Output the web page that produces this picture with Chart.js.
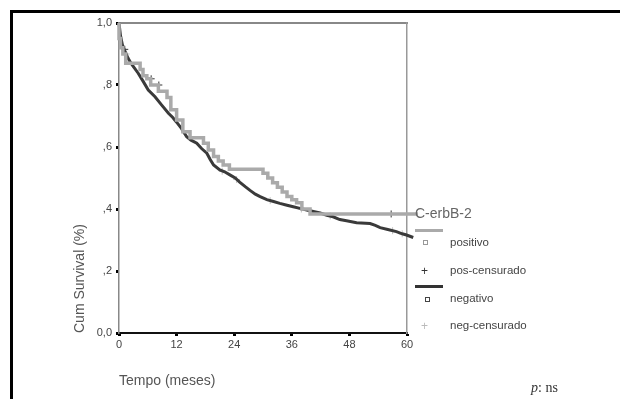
<!DOCTYPE html>
<html>
<head>
<meta charset="utf-8">
<script src="https://cdn.jsdelivr.net/npm/chart.js@4/dist/chart.umd.min.js"></script>
<style>
  html, body { margin: 0; padding: 0; background: #fff; overflow: hidden; }
  #wrap { position: relative; width: 620px; height: 399px; overflow: hidden; font-family: "Liberation Sans", Arial, sans-serif; }
  #frame { position: absolute; left: 10px; top: 10px; width: 700px; height: 500px; border-top: 3px solid #000; border-left: 3px solid #000; }
  canvas { position: absolute; left: 0; top: 0; }
  .txt { position: absolute; color: #444; white-space: nowrap; line-height: 1; }
  .lg { font-size: 11.5px; left: 450px; transform: translateY(-50%); }
  .sym { position: absolute; }
</style>
</head>
<body>
<div id="wrap">
  <div id="frame"></div>
  <canvas id="chart" width="620" height="399"></canvas>

  <div class="txt" style="left:415px; top:213px; font-size:14px; color:#666; transform:translateY(-50%);">C-erbB-2</div>
  <div class="sym" style="left:415px; top:229px; width:28px; height:3px; background:#aaa;"></div>
  <div class="sym" style="left:423px; top:240px; width:3px; height:3px; border:1px solid #999;"></div>
  <div class="txt lg" style="top:243px;">positivo</div>
  <div class="txt" style="left:421px; top:271px; font-size:12px; color:#333; transform:translateY(-50%);">+</div>
  <div class="txt lg" style="top:271px;">pos-censurado</div>
  <div class="sym" style="left:415px; top:285px; width:28px; height:3px; background:#333;"></div>
  <div class="sym" style="left:425px; top:297px; width:3px; height:3px; border:1px solid #444;"></div>
  <div class="txt lg" style="top:299px;">negativo</div>
  <div class="txt" style="left:421px; top:326px; font-size:12px; color:#bbb; transform:translateY(-50%);">+</div>
  <div class="txt lg" style="top:326px;">neg-censurado</div>

  <div class="txt" style="left:531px; top:388px; font-size:14px; color:#333; font-family:'Liberation Serif', serif; transform:translateY(-50%);"><i>p</i>: ns</div>
</div>
<script>
// months and cumulative survival
const posMonths = [0, 0.3, 0.8, 1.4, 4.4, 5.0, 5.8, 6.6, 8.2, 10.0, 10.8, 12.0, 13.3, 14.8, 17.6, 18.6, 19.7, 20.7, 21.7, 23.0, 30.0, 31.0, 32.0, 33.0, 34.0, 35.0, 36.0, 37.0, 38.1, 39.8, 44.5, 62.3];
const posSurv = [1.0, 0.95, 0.92, 0.90, 0.87, 0.85, 0.83, 0.82, 0.80, 0.78, 0.76, 0.72, 0.687, 0.649, 0.63, 0.612, 0.59, 0.569, 0.555, 0.542, 0.528, 0.515, 0.5, 0.485, 0.47, 0.455, 0.44, 0.43, 0.42, 0.40, 0.384, 0.384];

const negMonths = [0, 0.3, 0.7, 1.2, 1.9, 2.5, 3.0, 4.0, 5.1, 6.1, 7.5, 8.9, 10.3, 11.2, 12.0, 13.0, 14.1, 15.0, 16.2, 17.2, 18.3, 19.0, 19.7, 21.0, 22.0, 23.1, 24.2, 25.2, 26.3, 27.3, 28.4, 29.4, 30.8, 32.2, 33.5, 35.0, 36.3, 37.7, 39.1, 40.5, 41.9, 43.3, 44.6, 46.0, 47.4, 49.5, 52.3, 53.4, 54.4, 56.0, 57.8, 59.0, 59.9, 61.3, 62.7];
const negSurv = [1.0, 0.96, 0.93, 0.91, 0.886, 0.87, 0.859, 0.838, 0.81, 0.784, 0.762, 0.735, 0.709, 0.695, 0.68, 0.66, 0.633, 0.622, 0.612, 0.595, 0.58, 0.56, 0.542, 0.526, 0.52, 0.51, 0.5, 0.486, 0.472, 0.46, 0.448, 0.44, 0.43, 0.424, 0.418, 0.412, 0.407, 0.402, 0.397, 0.392, 0.387, 0.38, 0.375, 0.366, 0.362, 0.356, 0.353, 0.347, 0.34, 0.334, 0.327, 0.32, 0.316, 0.308, 0.302];

// censored cases
const posCensMonths = [1.2, 6.7, 8.3, 56.7];
const posCensSurv = [0.915, 0.82, 0.80, 0.384];
const negCensMonths = [1.5, 21.5, 24.5, 31.5, 38.0, 44.0, 57.0, 59.0];
const negCensSurv = [0.90, 0.522, 0.495, 0.427, 0.40, 0.378, 0.33, 0.32];

const xTicks = [0, 12, 24, 36, 48, 60];
const yTickLabels = ['0,0', ',2', ',4', ',6', ',8', '1,0'];

const pts = (xs, ys) => xs.map((x, i) => ({ x: x, y: ys[i] }));

const tickFont = { family: "'Liberation Sans', Arial, sans-serif", size: 11 };
const titleFont = { family: "'Liberation Sans', Arial, sans-serif", size: 14 };

new Chart(document.getElementById('chart'), {
    type: 'line',
    data: {
        datasets: [
            {
                label: 'positivo',
                data: pts(posMonths, posSurv),
                borderColor: '#aaaaaa',
                borderWidth: 3.5,
                stepped: 'after',
                pointRadius: 0,
                clip: false
            },
            {
                // steps are too fine to see in the original, so plain segments
                label: 'negativo',
                data: pts(negMonths, negSurv),
                borderColor: '#3a3a3a',
                borderWidth: 3,
                pointRadius: 0,
                clip: false
            },
            {
                label: 'pos-censurado',
                type: 'scatter',
                data: pts(posCensMonths, posCensSurv),
                pointStyle: 'cross',
                pointRadius: 3.5,
                borderWidth: 1,
                borderColor: '#333',
                clip: false
            },
            {
                label: 'neg-censurado',
                type: 'scatter',
                data: pts(negCensMonths, negCensSurv),
                pointStyle: 'cross',
                pointRadius: 3.5,
                borderWidth: 1,
                borderColor: '#c4c4c4',
                clip: false
            }
        ]
    },
    options: {
        responsive: false,
        animation: false,
        devicePixelRatio: 1,
        layout: { padding: { left: 0, top: 23, right: 213, bottom: 0 } },
        plugins: { legend: { display: false }, tooltip: { enabled: false } },
        scales: {
            x: {
                type: 'linear',
                min: 0,
                max: 60,
                afterFit: (s) => { s.height = 66; },
                afterBuildTicks: (s) => { s.ticks = xTicks.map(v => ({ value: v })); },
                ticks: { font: tickFont, color: '#444', padding: 2, maxRotation: 0 },
                grid: { drawOnChartArea: false, tickLength: 3, tickWidth: 3, tickColor: '#000' },
                border: { color: '#111', width: 2 },
                title: { display: true, text: 'Tempo (meses)', align: 'start', font: titleFont, color: '#555', padding: { top: 0, bottom: 9 } }
            },
            y: {
                min: 0,
                max: 1,
                afterFit: (s) => { s.width = 119; },
                ticks: {
                    stepSize: 0.2,
                    font: tickFont,
                    color: '#444',
                    padding: 4,
                    callback: (v) => yTickLabels[Math.round(v * 5)]
                },
                grid: { drawOnChartArea: false, tickLength: 3, tickWidth: 3, tickColor: '#000' },
                border: { color: '#888', width: 1.5 },
                title: { display: true, text: 'Cum Survival (%)', align: 'start', font: titleFont, color: '#555', padding: { top: 72, bottom: 0 } }
            },
            x2: {
                type: 'linear',
                position: 'top',
                min: 0,
                max: 60,
                afterFit: (s) => { s.height = 0; },
                ticks: { display: false },
                grid: { display: false },
                border: { color: '#888', width: 2 }
            },
            y2: {
                position: 'right',
                min: 0,
                max: 1,
                afterFit: (s) => { s.width = 0; },
                ticks: { display: false },
                grid: { display: false },
                border: { color: '#999', width: 1.5 }
            }
        }
    }
});
</script>
</body>
</html>
